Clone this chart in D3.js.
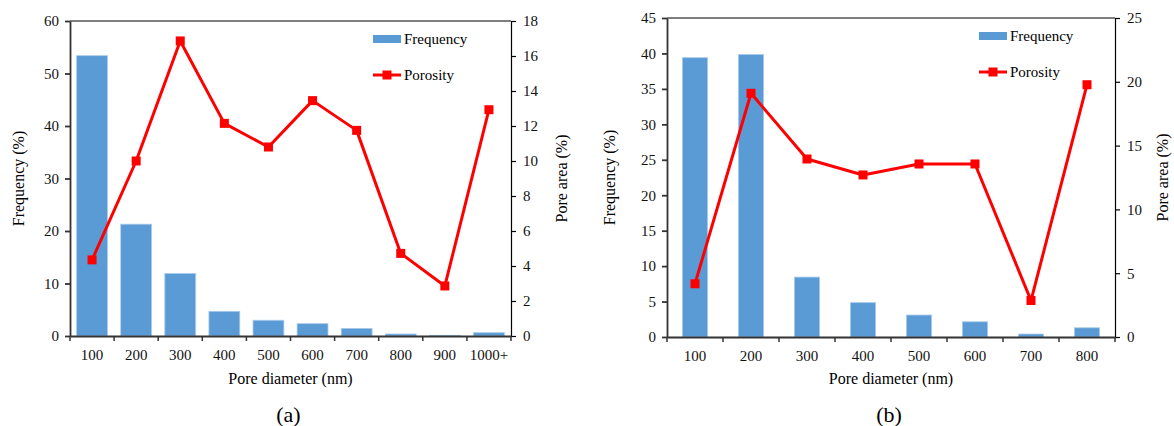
<!DOCTYPE html>
<html>
<head>
	<meta charset="utf-8">
	<title>Pore distribution</title>
	<script src="https://cdn.jsdelivr.net/npm/d3@7"></script>
	<style>
		body { margin: 0; background: #fff; }
		svg { display: block; font-family: "Liberation Serif", "Times New Roman", serif; }
	</style>
</head>
<body>
<div id="chart"></div>
<script>

	// data
	const catsA      = ["100", "200", "300", "400", "500", "600", "700", "800", "900", "1000+"];
	const frequencyA = [53.4, 21.3, 11.9, 4.7, 3.0, 2.35, 1.45, 0.38, 0.13, 0.63];
	const porosityA  = [4.35, 10.0, 16.86, 12.15, 10.8, 13.45, 11.75, 4.72, 2.86, 12.93];
	const leftTicksA  = [0, 10, 20, 30, 40, 50, 60];
	const rightTicksA = [0, 2, 4, 6, 8, 10, 12, 14, 16, 18];

	const catsB      = ["100", "200", "300", "400", "500", "600", "700", "800"];
	const frequencyB = [39.4, 39.85, 8.45, 4.85, 3.1, 2.15, 0.42, 1.3];
	const porosityB  = [4.17, 19.1, 13.95, 12.7, 13.56, 13.56, 2.86, 19.77];
	const leftTicksB  = [0, 5, 10, 15, 20, 25, 30, 35, 40, 45];
	const rightTicksB = [0, 5, 10, 15, 20, 25];

	const width  = 1174;
	const height = 426;
	const barColor  = "#5b9bd5";
	const lineColor = "#ff0000";
	const axisColor = "#333";
	const font      = "Liberation Serif, Times New Roman, serif";
	const fontSize  = "15px";

	const svg = d3.select("#chart").append("svg")
		.attr("width", width)
		.attr("height", height)
		.attr("viewBox", [0, 0, width, height]);

	function panel({ cats, freq, poro, leftTicks, rightTicks, left, right, top, bottom, pad,
		legendX, legendY, leftTitleX, rightTitleX, tag }) {

		const x = d3.scaleBand(cats, [left, right]).paddingInner(pad).paddingOuter(pad / 2);
		const yL = d3.scaleLinear([0, d3.max(leftTicks)], [bottom, top]);
		const yR = d3.scaleLinear([0, d3.max(rightTicks)], [bottom, top]);
		const g = svg.append("g").attr("font-family", font);

		// bars
		g.append("g").selectAll("rect")
			.data(freq)
			.join("rect")
			.attr("x", (d, i) => x(cats[i]))
			.attr("y", d => yL(d))
			.attr("width", x.bandwidth())
			.attr("height", d => yL(0) - yL(d))
			.attr("fill", barColor)
			.attr("stroke", "#a9cbec")
			.attr("stroke-width", 0.8);

		// top border
		g.append("line")
			.attr("x1", left).attr("x2", right)
			.attr("y1", top).attr("y2", top)
			.attr("stroke", "#000").attr("stroke-width", 1.2);

		// left axis
		g.append("g")
			.attr("transform", `translate(${left},0)`)
			.call(d3.axisLeft(yL).tickValues(leftTicks).tickSize(5).tickPadding(6).tickSizeOuter(0))
			.attr("font-family", font)
			.attr("font-size", fontSize)
			.call(a => a.selectAll("path, line").attr("stroke", axisColor).attr("stroke-width", 1.8))
			.call(a => a.selectAll("text").attr("fill", "#111"));

		// right axis
		g.append("g")
			.attr("transform", `translate(${right},0)`)
			.call(d3.axisRight(yR).tickValues(rightTicks).tickSize(5).tickPadding(7).tickSizeOuter(0))
			.attr("font-family", font)
			.attr("font-size", fontSize)
			.call(a => a.selectAll("path, line").attr("stroke", "#000").attr("stroke-width", 1.2))
			.call(a => a.selectAll("text").attr("fill", "#111"));

		// bottom axis: labels centred, ticks on category boundaries
		g.append("g")
			.attr("transform", `translate(0,${bottom})`)
			.call(d3.axisBottom(x).tickSize(0).tickPadding(13).tickSizeOuter(0))
			.attr("font-family", font)
			.attr("font-size", fontSize)
			.call(a => a.select(".domain").attr("stroke", axisColor).attr("stroke-width", 1.8))
			.call(a => a.selectAll("text").attr("fill", "#111"));

		const step = x.step();
		g.append("g").selectAll("line")
			.data(d3.range(cats.length + 1))
			.join("line")
			.attr("x1", i => left + i * step)
			.attr("x2", i => left + i * step)
			.attr("y1", bottom)
			.attr("y2", bottom + 5)
			.attr("stroke", axisColor)
			.attr("stroke-width", 1.5);

		// porosity line
		const cx = i => x(cats[i]) + x.bandwidth() / 2;
		g.append("path")
			.attr("fill", "none")
			.attr("stroke", lineColor)
			.attr("stroke-width", 3)
			.attr("stroke-linejoin", "round")
			.attr("d", d3.line().x((d, i) => cx(i)).y(d => yR(d))(poro));

		g.append("g").selectAll("rect")
			.data(poro)
			.join("rect")
			.attr("x", (d, i) => cx(i) - 4.5)
			.attr("y", d => yR(d) - 4.5)
			.attr("width", 9)
			.attr("height", 9)
			.attr("fill", lineColor);

		// legend
		const lg = g.append("g").attr("transform", `translate(${legendX},${legendY})`).attr("font-size", fontSize);
		lg.append("rect").attr("x", 0).attr("y", -4).attr("width", 28).attr("height", 8).attr("fill", barColor);
		lg.append("text").attr("x", 31).attr("y", 5).text("Frequency");
		lg.append("line").attr("x1", 0).attr("x2", 28).attr("y1", 36).attr("y2", 36)
			.attr("stroke", lineColor).attr("stroke-width", 3);
		lg.append("rect").attr("x", 9.5).attr("y", 31.5).attr("width", 9).attr("height", 9).attr("fill", lineColor);
		lg.append("text").attr("x", 31).attr("y", 41).text("Porosity");

		// titles
		const mid = (left + right) / 2;
		const yMid = (top + bottom) / 2;
		g.append("text")
			.attr("transform", `translate(${leftTitleX},${yMid}) rotate(-90)`)
			.attr("text-anchor", "middle")
			.attr("font-size", "16px")
			.text("Frequency (%)");
		g.append("text")
			.attr("transform", `translate(${rightTitleX},${yMid}) rotate(-90)`)
			.attr("text-anchor", "middle")
			.attr("font-size", "16px")
			.text("Pore area (%)");
		g.append("text")
			.attr("x", mid).attr("y", 384)
			.attr("text-anchor", "middle")
			.attr("font-size", "16px")
			.text("Pore diameter (nm)");
		g.append("text")
			.attr("x", mid - 2).attr("y", 422)
			.attr("text-anchor", "middle")
			.attr("font-size", "22px")
			.text(tag);
	}

	panel({
		cats: catsA, freq: frequencyA, poro: porosityA,
		leftTicks: leftTicksA, rightTicks: rightTicksA,
		left: 70, right: 511, top: 21, bottom: 336, pad: 0.3,
		legendX: 373, legendY: 39, leftTitleX: 24, rightTitleX: 567, tag: "(a)"
	});

	panel({
		cats: catsB, freq: frequencyB, poro: porosityB,
		leftTicks: leftTicksB, rightTicks: rightTicksB,
		left: 667, right: 1115, top: 18, bottom: 337, pad: 0.55,
		legendX: 979, legendY: 36, leftTitleX: 615, rightTitleX: 1168, tag: "(b)"
	});

</script>
</body>
</html>
